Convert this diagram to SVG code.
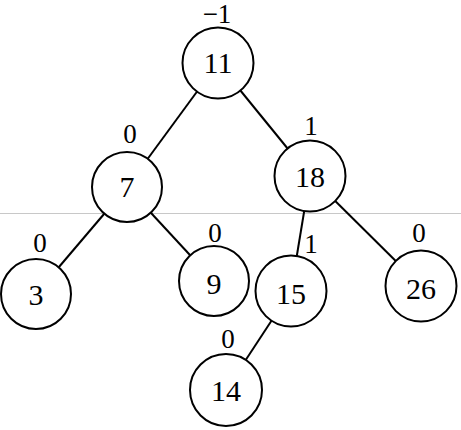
<svg xmlns="http://www.w3.org/2000/svg" width="461" height="430" viewBox="0 0 461 430">
<style>
.n circle{fill:#fff;stroke:#000;stroke-width:2}
.e line{stroke:#000;stroke-width:2}
text{font-family:"Liberation Serif","Tinos","DejaVu Serif",serif;text-anchor:middle;fill:#000}
.v{font-size:30px}
.b{font-size:27px}
</style>
<rect width="461" height="430" fill="#fff"/>
<line x1="0" y1="213.5" x2="461" y2="213.5" stroke="#c8c8c8" stroke-width="1"/>
<g id="edges" class="e">
<line x1="218" y1="63" x2="127" y2="187"/>
<line x1="218" y1="63" x2="310" y2="176"/>
<line x1="127" y1="187" x2="36" y2="294"/>
<line x1="127" y1="187" x2="214" y2="281"/>
<line x1="310" y1="176" x2="291" y2="291"/>
<line x1="310" y1="176" x2="421" y2="286"/>
<line x1="291" y1="291" x2="226" y2="390"/>
</g>
<g id="n11" class="n"><circle cx="218" cy="63" r="35.5"/><text class="v" x="218" y="73">11</text><text class="b" x="217" y="23">−1</text></g>
<g id="n7" class="n"><circle cx="127" cy="187" r="35"/><text class="v" x="127" y="197">7</text><text class="b" x="130" y="143">0</text></g>
<g id="n18" class="n"><circle cx="310" cy="176" r="35.5"/><text class="v" x="310" y="187">18</text><text class="b" x="311" y="135">1</text></g>
<g id="n3" class="n"><circle cx="36" cy="294" r="35"/><text class="v" x="36" y="305">3</text><text class="b" x="40" y="252">0</text></g>
<g id="n9" class="n"><circle cx="214" cy="281" r="35"/><text class="v" x="214" y="294">9</text><text class="b" x="215" y="242">0</text></g>
<g id="n15" class="n"><circle cx="291" cy="291" r="35.5"/><text class="v" x="291" y="304">15</text><text class="b" x="311" y="253">1</text></g>
<g id="n26" class="n"><circle cx="421" cy="286" r="35.5"/><text class="v" x="421" y="299">26</text><text class="b" x="419" y="242">0</text></g>
<g id="n14" class="n"><circle cx="226" cy="390" r="36"/><text class="v" x="226" y="401">14</text><text class="b" x="228" y="348">0</text></g>
</svg>
